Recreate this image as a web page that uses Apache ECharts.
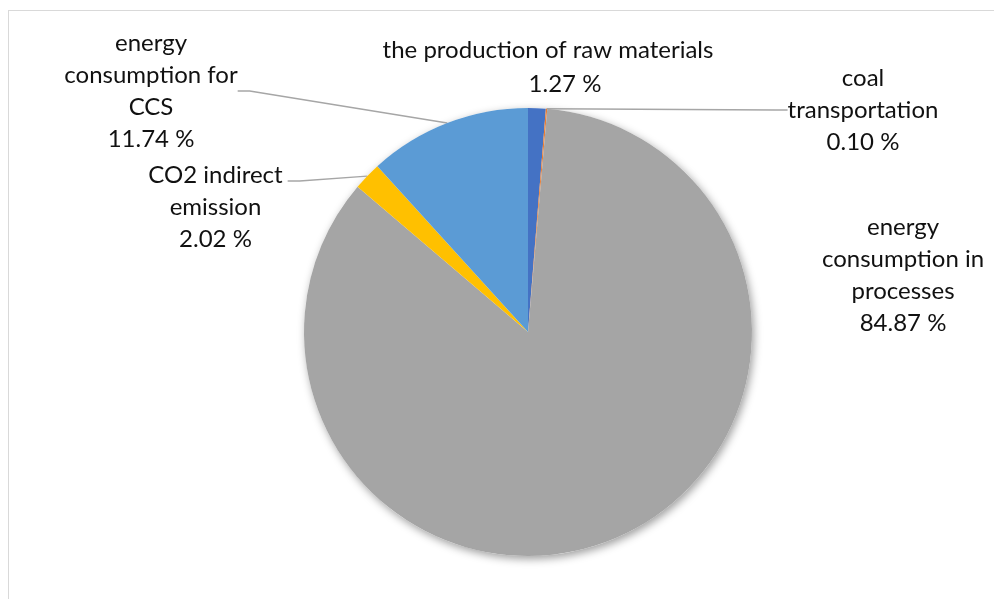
<!DOCTYPE html>
<html>
<head>
<meta charset="utf-8">
<script src="https://cdn.jsdelivr.net/npm/echarts@6/dist/echarts.min.js"></script>
<style>
  html, body { margin: 0; padding: 0; background: #ffffff; overflow: hidden; }
  #frame { position: absolute; left: 8px; top: 10px; width: 1200px; height: 900px;
           border: 1.5px solid #d9d9d9; box-sizing: border-box; }
  #chart { position: absolute; left: 0; top: 0; width: 994px; height: 599px; }
</style>
</head>
<body>
<div id="frame"></div>
<div id="chart"></div>
<script>
// Share of each emission source, clockwise from 12 o'clock
const categories = [
  'the production of raw materials',
  'coal\ntransportation',
  'energy\nconsumption in\nprocesses',
  'CO2 indirect\nemission',
  'energy\nconsumption for\nCCS'
];
const shares = [1.27, 0.10, 84.87, 2.02, 11.74];

// Styling and label placement
const sliceColors = ['#4472C4', '#ED7D31', '#A5A5A5', '#FFC000', '#5B9BD5'];
const labelCenters = [[548, 67], [863, 110], [903, 275], [218, 181], [151, 91]];
// label box padding [top, right, bottom, left]; for the CO2 label it lifts the
// leader-line anchor to the first text line and leaves a small gap after the text
const labelPads = [[0, 0, 0, 0], [0, 0, 0, 0], [0, 0, 0, 0], [52, 5, 0, 0], [0, 0, 0, 0]];
const showLeader = [false, true, false, true, true];

const pieCenter = [528, 332];
const pieRadius = 224;
const total = shares.reduce((a, b) => a + b, 0);

const chart = echarts.init(document.getElementById('chart'), null, { renderer: 'canvas' });

const fmtValue = v => v.toFixed(2) + ' %';

chart.setOption({
  backgroundColor: 'transparent',
  animation: false,
  series: [
    {
      // soft drop shadow under the whole disc
      type: 'pie',
      silent: true,
      center: pieCenter,
      radius: pieRadius,
      z: 1,
      label: { show: false },
      labelLine: { show: false },
      itemStyle: {
        color: '#ffffff',
        shadowBlur: 9,
        shadowOffsetX: 2,
        shadowOffsetY: 3,
        shadowColor: 'rgba(0,0,0,0.38)'
      },
      data: [{ value: total, name: '' }]
    },
    {
      type: 'pie',
      center: pieCenter,
      radius: pieRadius,
      startAngle: 90,
      clockwise: true,
      z: 2,
      avoidLabelOverlap: false,
      itemStyle: { borderWidth: 0 },
      label: {
        show: true,
        position: 'outside',
        color: '#111111',
        fontFamily: 'Lato',
        fontSize: 24,
        lineHeight: 32,
        align: 'center',
        formatter: p => p.dataIndex === 0
          ? '{n|' + p.name + '}\n{v|' + fmtValue(p.value) + '}'
          : p.name + '\n' + fmtValue(p.value),
        rich: {
          n: { fontFamily: 'Lato', fontSize: 24, lineHeight: 34, color: '#111111' },
          v: { fontFamily: 'Lato', fontSize: 24, lineHeight: 34, color: '#111111', padding: [0, 0, 0, 34] }
        }
      },
      labelLine: {
        show: true,
        length: 8,
        length2: 12,
        smooth: false,
        lineStyle: { color: '#a6a6a6', width: 1.4 }
      },
      labelLayout: params => {
        const c = labelCenters[params.dataIndex];
        return { x: c[0], y: c[1], align: 'center', verticalAlign: 'middle' };
      },
      emphasis: { disabled: true },
      data: categories.map((name, i) => ({
        name: name,
        value: shares[i],
        itemStyle: { color: sliceColors[i] },
        label: { padding: labelPads[i] },
        labelLine: { show: showLeader[i] }
      }))
    }
  ]
});
</script>
</body>
</html>
